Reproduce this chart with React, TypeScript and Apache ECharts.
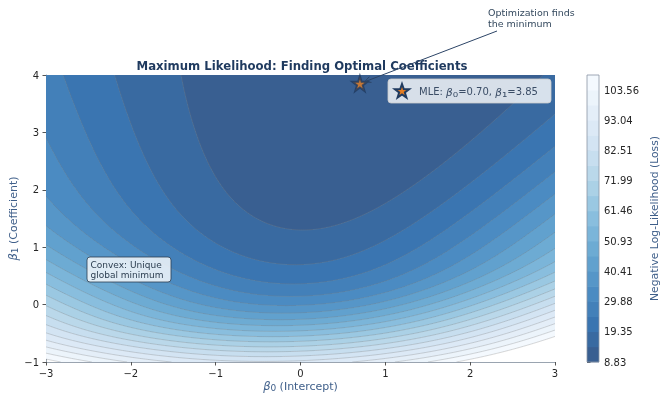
import React, { useEffect, useRef } from "react";
import * as echarts from "echarts";

// ---- observations behind the likelihood surface: predictor x and binary outcome y ----
const xObs = [
  -5.0, -5.0, -5.0, -5.0, -0.97, -0.98, -0.97, -0.97, -0.97, -5.0,
  -0.98, -0.97, -0.97, -0.97, -0.97, -0.97, -0.97, -0.97, -0.97, -0.97,
  -0.97, -0.97, -0.97, 0.41, -0.98, -0.88, -0.98, 0.09, 0.41, -0.39,
  0.42, 0.1, 0.43, 0.44, 0.45, 0.46, 0.46, 0.46, 0.45, 2.74,
  1.03, 2.68, 2.67, 1.69, 2.63, 2.65, 2.65, 2.67, 1.55, 2.65,
];
const yObs = [
  0, 0, 0, 0, 0, 0, 0, 0, 0, 0,
  0, 0, 0, 0, 0, 0, 0, 0, 0, 0,
  0, 0, 0, 1, 0, 1, 0, 0, 1, 1,
  1, 0, 1, 1, 1, 1, 1, 1, 1, 1,
  1, 1, 1, 1, 1, 1, 1, 1, 1, 1,
];

// parameter ranges shown
const b0Range = [-3, 3];
const b1Range = [-1, 4];

// contour levels (colorbar boundaries)
const levels = [
  8.83, 14.09, 19.35, 24.62, 29.88, 35.14, 40.41, 45.67, 50.93, 56.2,
  61.46, 66.72, 71.99, 77.25, 82.51, 87.78, 93.04, 98.3, 103.56, 108.83,
];
const levelLabels = levels.map((v) => v.toFixed(2));

// MLE marker
const mleB0 = [0.7];
const mleB1 = [3.85];

const FONT = "DejaVu Sans";
const BLUES = ["#f7fbff", "#deebf7", "#c6dbef", "#9ecae1", "#6baed6", "#4292c6", "#2171b5", "#08519c", "#08306b"];

function hexRgb(h: string) {
  return [parseInt(h.slice(1, 3), 16), parseInt(h.slice(3, 5), 16), parseInt(h.slice(5, 7), 16)];
}
const BLUES_RGB = BLUES.map(hexRgb);
function bluesAt(t: number) {
  const s = Math.max(0, Math.min(1, t)) * 8;
  const i = Math.min(7, Math.floor(s));
  const f = s - i;
  const a = BLUES_RGB[i], b = BLUES_RGB[i + 1];
  return [0, 1, 2].map((k) => a[k] + (b[k] - a[k]) * f);
}
function bandColor(k: number) {
  const nb = levels.length - 1;
  const c = bluesAt(1 - (k + 0.5) / nb);
  const m = c.map((v) => Math.round(v * 0.8 + 255 * 0.2));
  return `rgb(${m[0]},${m[1]},${m[2]})`;
}

function softplus(z: number) {
  return z > 0 ? z + Math.log1p(Math.exp(-z)) : Math.log1p(Math.exp(z));
}
// negative log-likelihood of the logistic model for the observations
function nll(b0: number, b1: number) {
  let s = 0;
  for (let i = 0; i < xObs.length; i++) {
    const eta = b0 + b1 * xObs[i];
    s += softplus(eta) - yObs[i] * eta;
  }
  return s;
}
function bandOf(v: number) {
  const n = levels.length;
  if (v > levels[n - 1]) return -1;
  for (let k = n - 2; k >= 0; k--) if (v >= levels[k]) return k;
  return 0;
}

function buildFillRuns() {
  const NX = 509, NY = 287;
  const dx = (b0Range[1] - b0Range[0]) / NX;
  const dy = (b1Range[1] - b1Range[0]) / NY;
  const runs: number[][] = [];
  for (let j = 0; j < NY; j++) {
    const b1 = b1Range[0] + (j + 0.5) * dy;
    let start = 0;
    let cur = bandOf(nll(b0Range[0] + 0.5 * dx, b1));
    for (let i = 1; i <= NX; i++) {
      const bd = i < NX ? bandOf(nll(b0Range[0] + (i + 0.5) * dx, b1)) : -999;
      if (bd !== cur) {
        if (cur >= 0) runs.push([b0Range[0] + start * dx, b0Range[0] + i * dx, b1Range[0] + j * dy, b1Range[0] + (j + 1) * dy, cur]);
        start = i;
        cur = bd;
      }
    }
  }
  return runs;
}

function buildContours() {
  const NX = 241, NY = 201;
  const xs: number[] = [], ys: number[] = [];
  for (let i = 0; i < NX; i++) xs.push(b0Range[0] + (i * (b0Range[1] - b0Range[0])) / (NX - 1));
  for (let j = 0; j < NY; j++) ys.push(b1Range[0] + (j * (b1Range[1] - b1Range[0])) / (NY - 1));
  const g: number[][] = ys.map((y) => xs.map((x) => nll(x, y)));
  const out: number[][][] = [];
  for (let k = 1; k < levels.length; k++) {
    const L = levels[k];
    const segs: number[][] = [];
    for (let j = 0; j < NY - 1; j++) {
      for (let i = 0; i < NX - 1; i++) {
        const v00 = g[j][i], v10 = g[j][i + 1], v01 = g[j + 1][i], v11 = g[j + 1][i + 1];
        const pts: number[][] = [];
        const edge = (va: number, vb: number, xa: number, ya: number, xb: number, yb: number) => {
          if ((va < L) !== (vb < L)) {
            const t = (L - va) / (vb - va);
            pts.push([xa + (xb - xa) * t, ya + (yb - ya) * t]);
          }
        };
        edge(v00, v10, xs[i], ys[j], xs[i + 1], ys[j]);
        edge(v10, v11, xs[i + 1], ys[j], xs[i + 1], ys[j + 1]);
        edge(v11, v01, xs[i + 1], ys[j + 1], xs[i], ys[j + 1]);
        edge(v01, v00, xs[i], ys[j + 1], xs[i], ys[j]);
        if (pts.length >= 2) segs.push([pts[0][0], pts[0][1], pts[1][0], pts[1][1]]);
        if (pts.length === 4) segs.push([pts[2][0], pts[2][1], pts[3][0], pts[3][1]]);
      }
    }
    out.push(segs);
  }
  return out;
}

const STAR = "path://M50,0 L61.2,34.5 L97.6,34.5 L68.2,55.9 L79.4,90.5 L50,69.1 L20.6,90.5 L31.8,55.9 L2.4,34.5 L38.8,34.5 Z";

export default function App() {
  const ref = useRef<HTMLDivElement>(null);
  useEffect(() => {
    if (!ref.current) return;
    const chart = echarts.init(ref.current, undefined, { renderer: "svg" });
    const runs = buildFillRuns();
    const contours = buildContours();
    const bandIdx = levels.slice(0, -1).map((_, i) => [0, i, i + 1]);
    const axisCol = "#3f5f8a";
    const tickText = "#262626";
    const spine = "#9aa4b0";
    const nameRich = {
      i: { fontStyle: "italic", color: axisCol, fontSize: 11.5, fontFamily: FONT, lineHeight: 14 },
      s: { color: axisCol, fontSize: 14, fontFamily: FONT, lineHeight: 14 },
      n: { color: axisCol, fontSize: 11, fontFamily: FONT, lineHeight: 14 },
    };

    chart.setOption({
      animation: false,
      grid: [
        { left: 46, right: 106, top: 75, bottom: 34, containLabel: false, outerBoundsMode: "none" },
        { left: 587, right: 62, top: 75, bottom: 34, containLabel: false, outerBoundsMode: "none" },
      ],
      xAxis: [
        {
          type: "value", gridIndex: 0, min: b0Range[0], max: b0Range[1], interval: 1,
          axisLine: { show: true, onZero: false, lineStyle: { color: spine, width: 1 } },
          axisTick: { show: true, length: 3.5, lineStyle: { color: "#555" } },
          splitLine: { show: false },
          axisLabel: { color: tickText, fontSize: 10, fontFamily: FONT, margin: 6, formatter: (v: number) => String(v).replace("-", "\u2212") },
          name: "{i|β}{s|₀}{n| (Intercept)}", nameLocation: "middle", nameGap: 17, nameMoveOverlap: false,
          nameTextStyle: { color: axisCol, fontSize: 11, fontFamily: FONT, rich: nameRich },
        },
        { type: "value", gridIndex: 1, min: 0, max: 1, show: false },
      ],
      yAxis: [
        {
          type: "value", gridIndex: 0, min: b1Range[0], max: b1Range[1], interval: 1,
          axisLine: { show: true, onZero: false, lineStyle: { color: spine, width: 1 } },
          axisTick: { show: true, length: 3.5, lineStyle: { color: "#555" } },
          splitLine: { show: false },
          axisLabel: { color: tickText, fontSize: 10, fontFamily: FONT, margin: 7, formatter: (v: number) => String(v).replace("-", "\u2212") },
          name: "{i|β}{s|₁}{n| (Coefficient)}", nameLocation: "middle", nameGap: 26, nameRotate: 90, nameMoveOverlap: false,
          nameTextStyle: { color: axisCol, fontSize: 11, fontFamily: FONT, rich: nameRich },
        },
        {
          type: "category", gridIndex: 1, data: levelLabels, boundaryGap: false, position: "right",
          axisLine: { show: false },
          axisTick: { show: true, interval: 1, length: 3.5, lineStyle: { color: "#555" } },
          axisLabel: { interval: 1, color: tickText, fontSize: 10, fontFamily: FONT, margin: 5 },
          splitLine: { show: false },
          name: "Negative Log-Likelihood (Loss)", nameLocation: "middle", nameGap: 50, nameRotate: 90, nameMoveOverlap: false,
          nameTextStyle: { color: axisCol, fontSize: 10.8, fontFamily: FONT },
        },
      ],
      series: [
        {
          type: "custom", xAxisIndex: 0, yAxisIndex: 0, progressive: 0, clip: true,
          encode: { x: [0, 1], y: [2, 3] }, data: runs, silent: true,
          renderItem: (params: any, api: any) => {
            const p0 = api.coord([api.value(0), api.value(3)]);
            const p1 = api.coord([api.value(1), api.value(2)]);
            const x0 = Math.round(p0[0]), x1 = Math.round(p1[0]);
            const y0 = Math.round(p0[1]), y1 = Math.round(p1[1]);
            return { type: "rect", shape: { x: x0, y: y0, width: x1 - x0, height: y1 - y0 }, style: { fill: bandColor(api.value(4)) } };
          },
        },
        {
          type: "custom", xAxisIndex: 0, yAxisIndex: 0, progressive: 0, clip: true,
          encode: { x: 0, y: 1 }, data: contours.map((_, k) => [0, 0, k]), silent: true,
          renderItem: (params: any, api: any) => {
            const segs = contours[api.value(2)];
            let d = "";
            for (const s of segs) {
              const a = api.coord([s[0], s[1]]);
              const b = api.coord([s[2], s[3]]);
              d += `M${a[0].toFixed(2)} ${a[1].toFixed(2)}L${b[0].toFixed(2)} ${b[1].toFixed(2)}`;
            }
            return { type: "path", shape: { pathData: d }, style: { fill: "none", stroke: "rgba(128,128,128,0.45)", lineWidth: 0.7 } };
          },
        },
        {
          type: "scatter", xAxisIndex: 0, yAxisIndex: 0,
          data: mleB0.map((b, i) => [b, mleB1[i]]),
          symbol: STAR, symbolSize: 15,
          itemStyle: { color: "#e67e22", borderColor: "#1f3a5f", borderWidth: 2 },
          z: 5,
        },
        {
          type: "custom", xAxisIndex: 1, yAxisIndex: 1, progressive: 0,
          encode: { x: 0, y: 1 }, data: bandIdx, silent: true,
          renderItem: (params: any, api: any) => {
            const a = api.coord([0, api.value(1)]);
            const b = api.coord([1, api.value(2)]);
            return { type: "rect", shape: { x: a[0], y: b[1] - 0.3, width: b[0] - a[0], height: a[1] - b[1] + 0.6 }, style: { fill: bandColor(api.value(1)) } };
          },
        },
      ],
    });

    const star = chart.convertToPixel({ xAxisIndex: 0, yAxisIndex: 0 }, [mleB0[0], mleB1[0]]) as number[];
    const cbTop = chart.convertToPixel({ xAxisIndex: 1, yAxisIndex: 1 }, [0, levels.length - 1]) as number[];
    const cbBot = chart.convertToPixel({ xAxisIndex: 1, yAxisIndex: 1 }, [1, 0]) as number[];
    const from = [497, 31];
    const ang = Math.atan2(star[1] - from[1], star[0] - from[0]);
    const tip = [star[0] - Math.cos(ang) * 5, star[1] - Math.sin(ang) * 5];
    const hl = 7, ha = 0.45;
    const h1 = [tip[0] - hl * Math.cos(ang - ha), tip[1] - hl * Math.sin(ang - ha)];
    const h2 = [tip[0] - hl * Math.cos(ang + ha), tip[1] - hl * Math.sin(ang + ha)];
    const starPts = (cx: number, cy: number, r: number) => {
      const pts: number[][] = [];
      for (let i = 0; i < 10; i++) {
        const rr = i % 2 === 0 ? r : r * 0.4;
        const a = -Math.PI / 2 + (i * Math.PI) / 5;
        pts.push([cx + rr * Math.cos(a), cy + rr * Math.sin(a)]);
      }
      return pts;
    };
    const arrowCol = "#2c4466";
    const legCol = "#3b4d66";

    chart.setOption({
      graphic: [
        { type: "text", x: 302, y: 66, style: { text: "Maximum Likelihood: Finding Optimal Coefficients", font: `bold 11.7px "${FONT}"`, fill: "#1f3a5f", align: "center", verticalAlign: "middle" } },
        { type: "text", x: 488, y: 7, style: { text: "Optimization finds\nthe minimum", font: `9.5px "${FONT}"`, fill: "#34495e", lineHeight: 11, verticalAlign: "top" } },
        { type: "line", shape: { x1: from[0], y1: from[1], x2: tip[0], y2: tip[1] }, style: { stroke: arrowCol, lineWidth: 1 }, z: 10 },
        { type: "polyline", shape: { points: [h1, tip, h2] }, style: { stroke: arrowCol, lineWidth: 1, fill: "none" }, z: 10 },
        { type: "rect", shape: { x: cbTop[0], y: cbTop[1], width: cbBot[0] - cbTop[0], height: cbBot[1] - cbTop[1] }, style: { fill: "none", stroke: "#8c96a3", lineWidth: 0.8 }, z: 10 },
        { type: "rect", shape: { x: 388, y: 79, width: 163, height: 24, r: 3 }, style: { fill: "rgba(255,255,255,0.8)", stroke: "#cccccc", lineWidth: 0.8 }, z: 20 },
        { type: "polygon", shape: { points: starPts(402, 91.5, 7.5) }, style: { fill: "#e67e22", stroke: "#1f3a5f", lineWidth: 2, lineJoin: "miter" }, z: 21 },
        {
          type: "text", x: 419, y: 91.5, z: 21,
          style: {
            text: "MLE: {i|β}{s|₀}=0.70, {i|β}{s|₁}=3.85", font: `10px "${FONT}"`, fill: legCol, verticalAlign: "middle",
            rich: {
              i: { fontStyle: "italic", fontSize: 10.5, fontFamily: FONT, fill: legCol },
              s: { fontSize: 13.5, fontFamily: FONT, fill: legCol },
            },
          },
        },
        { type: "rect", shape: { x: 87, y: 257, width: 84, height: 25, r: 3 }, style: { fill: "rgba(255,255,255,0.8)", stroke: "#2c3e50", lineWidth: 0.8 }, z: 20 },
        { type: "text", x: 90.5, y: 259.5, z: 21, style: { text: "Convex: Unique\nglobal minimum", font: `9px "${FONT}"`, fill: "#2c3e50", lineHeight: 10.5, verticalAlign: "top" } },
      ],
    });
    return () => chart.dispose();
  }, []);
  return <div ref={ref} style={{ position: "fixed", left: 0, top: 0, width: 661, height: 396 }} />;
}
